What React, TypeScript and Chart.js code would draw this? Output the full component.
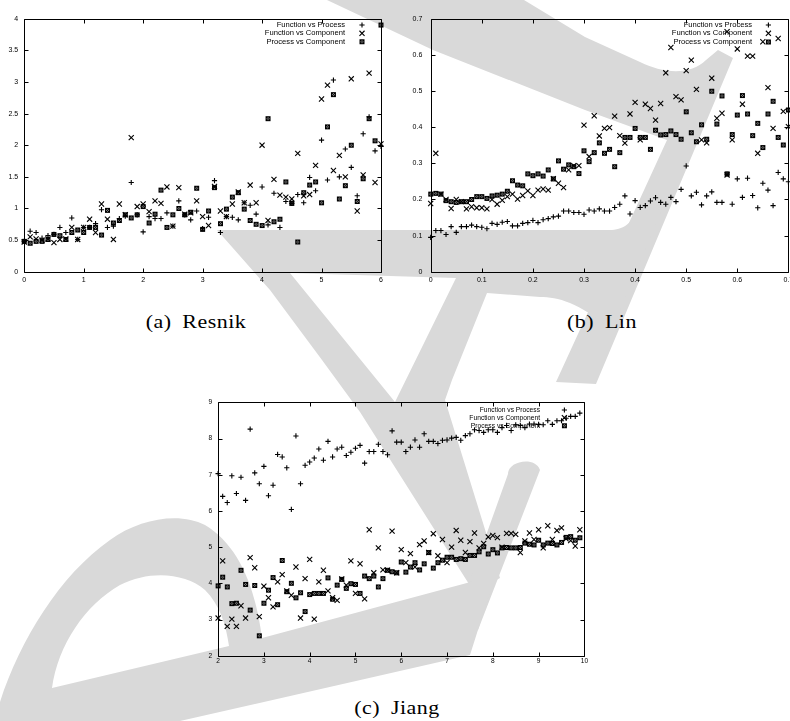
import React, { useEffect, useRef } from 'react';
import { Chart, registerables } from 'chart.js';
import { drawPoint } from 'chart.js/helpers';

Chart.register(...registerables);

// ---------------- data ----------------
const seriesLabels = ['Function vs Process', 'Function vs Component', 'Process vs Component'];

// (a) Resnik
const resnikX = [0, 0.1, 0.2, 0.3, 0.4, 0.5, 0.6, 0.7, 0.8, 0.9, 1, 1.1, 1.2, 1.3, 1.4, 1.5, 1.6, 1.7, 1.8, 1.9,
  2, 2.1, 2.2, 2.3, 2.4, 2.5, 2.6, 2.7, 2.8, 2.9, 3, 3.1, 3.2, 3.3, 3.4, 3.5, 3.6, 3.7, 3.8, 3.9,
  4, 4.1, 4.2, 4.3, 4.4, 4.5, 4.6, 4.7, 4.8, 4.9, 5, 5.1, 5.2, 5.3, 5.4, 5.5, 5.6, 5.7, 5.8, 5.9, 6];
const resnikFuncProc = [0.48, 0.64, 0.62, 0.53, 0.57, 0.59, 0.70, 0.62, 0.85, 0.51,
  0.70, 0.70, 0.76, 0.98, 0.70, 0.72, 0.84, 0.88, 1.41, 0.90,
  0.63, 0.87, 0.84, 0.84, 0.93, 0.72, 1.12, 0.90, 0.82, 0.96,
  0.68, 0.86, 1.44, 0.62, 0.87, 0.86, 0.82, 1.09, 1.05, 0.91,
  1.34, 0.74, 1.24, 0.70, 1.11, 1.08, 1.22, 1.09, 1.49, 1.28,
  2.08, 1.45, 3.03, 1.50, 1.94, 1.65, 1.20, 2.18, 2.45, 1.91, 1.98];
const resnikFuncComp = [0.47, 0.55, 0.52, 0.50, 0.52, 0.46, 0.51, 0.52, 0.70, 0.51,
  0.70, 0.83, 0.62, 1.07, 0.83, 0.51, 1.07, 0.90, 2.12, 1.03,
  1.07, 0.95, 1.12, 1.08, 1.34, 0.72, 1.33, 0.91, 0.93, 1.12,
  0.87, 0.73, 1.35, 0.96, 0.87, 1.07, 1.26, 1.09, 1.37, 1.09,
  2.00, 0.81, 1.46, 1.21, 1.18, 1.15, 1.87, 1.20, 1.22, 1.68,
  2.73, 2.95, 1.60, 1.84, 1.50, 3.05, 0.96, 1.53, 3.14, 1.41, 2.02];
const resnikProcComp = [0.48, 0.45, 0.48, 0.48, 0.51, 0.59, 0.57, 0.51, 0.62, 0.66,
  0.62, 0.70, 0.70, 0.58, 0.97, 0.77, 0.81, 0.90, 0.85, 0.90,
  1.03, 0.77, 0.91, 1.29, 0.70, 0.90, 1.00, 0.90, 0.94, 1.32,
  0.67, 0.96, 1.33, 0.76, 0.99, 1.18, 1.25, 0.99, 0.81, 0.75,
  0.73, 2.42, 0.79, 0.83, 1.42, 1.08, 0.47, 1.25, 1.37, 1.42,
  1.09, 2.29, 2.80, 1.15, 1.36, 2.00, 1.11, 1.47, 2.42, 2.07, 3.90];
const resnikXTicks = [0, 1, 2, 3, 4, 5, 6];
const resnikYTicks = [0, 0.5, 1, 1.5, 2, 2.5, 3, 3.5, 4];

// (b) Lin
const linX = [0, 0.01, 0.02, 0.03, 0.04, 0.05, 0.06, 0.07, 0.08, 0.09,
  0.1, 0.11, 0.12, 0.13, 0.14, 0.15, 0.16, 0.17, 0.18, 0.19,
  0.2, 0.21, 0.22, 0.23, 0.24, 0.25, 0.26, 0.27, 0.28, 0.29,
  0.3, 0.31, 0.32, 0.33, 0.34, 0.35, 0.36, 0.37, 0.38, 0.39,
  0.4, 0.41, 0.42, 0.43, 0.44, 0.45, 0.46, 0.47, 0.48, 0.49,
  0.5, 0.51, 0.52, 0.53, 0.54, 0.55, 0.56, 0.57, 0.58, 0.59,
  0.6, 0.61, 0.62, 0.63, 0.64, 0.65, 0.66, 0.67, 0.68, 0.69, 0.7];
const linFuncProc = [0.095, 0.114, 0.114, 0.103, 0.125, 0.109, 0.125, 0.125, 0.129, 0.125,
  0.123, 0.119, 0.134, 0.131, 0.137, 0.139, 0.127, 0.127, 0.134, 0.136,
  0.142, 0.136, 0.144, 0.147, 0.152, 0.154, 0.168, 0.168, 0.164, 0.164,
  0.159, 0.171, 0.168, 0.174, 0.168, 0.168, 0.178, 0.187, 0.210, 0.160,
  0.197, 0.178, 0.183, 0.196, 0.205, 0.192, 0.187, 0.206, 0.194, 0.228,
  0.293, 0.210, 0.220, 0.185, 0.210, 0.221, 0.192, 0.192, 0.270, 0.187,
  0.257, 0.206, 0.259, 0.211, 0.177, 0.245, 0.226, 0.183, 0.275, 0.257, 0.249];
const linFuncComp = [0.189, 0.328, 0.215, 0.200, 0.175, 0.200, 0.194, 0.174, 0.180, 0.177,
  0.177, 0.174, 0.200, 0.187, 0.198, 0.208, 0.215, 0.201, 0.211, 0.224,
  0.211, 0.226, 0.229, 0.226, 0.258, 0.245, 0.233, 0.282, 0.294, 0.294,
  0.406, 0.319, 0.432, 0.376, 0.397, 0.399, 0.431, 0.377, 0.356, 0.437,
  0.469, 0.365, 0.464, 0.452, 0.420, 0.466, 0.551, 0.621, 0.485, 0.476,
  0.557, 0.586, 0.505, 0.365, 0.357, 0.536, 0.425, 0.439, 0.268, 0.365,
  0.617, 0.464, 0.597, 0.597, 0.328, 0.637, 0.510, 0.397, 0.646, 0.444, 0.402];
const linProcComp = [0.215, 0.217, 0.215, 0.197, 0.194, 0.192, 0.194, 0.194, 0.200, 0.208,
  0.208, 0.203, 0.210, 0.212, 0.215, 0.223, 0.252, 0.240, 0.238, 0.271,
  0.266, 0.271, 0.265, 0.282, 0.257, 0.307, 0.284, 0.296, 0.291, 0.272,
  0.335, 0.305, 0.330, 0.357, 0.328, 0.339, 0.291, 0.330, 0.372, 0.372,
  0.397, 0.372, 0.372, 0.339, 0.392, 0.379, 0.380, 0.390, 0.380, 0.367,
  0.443, 0.385, 0.360, 0.407, 0.367, 0.500, 0.409, 0.487, 0.271, 0.380,
  0.434, 0.488, 0.437, 0.377, 0.411, 0.344, 0.437, 0.472, 0.372, 0.351, 0.448];
const linFuncCompExtra = [{ x: 0.58, y: 0.665 }];
const linXTicks = [0, 0.1, 0.2, 0.3, 0.4, 0.5, 0.6, 0.7];
const linYTicks = [0, 0.1, 0.2, 0.3, 0.4, 0.5, 0.6, 0.7];

// (c) Jiang
const jiangX = [2, 2.1, 2.2, 2.3, 2.4, 2.5, 2.6, 2.7, 2.8, 2.9,
  3, 3.1, 3.2, 3.3, 3.4, 3.5, 3.6, 3.7, 3.8, 3.9,
  4, 4.1, 4.2, 4.3, 4.4, 4.5, 4.6, 4.7, 4.8, 4.9,
  5, 5.1, 5.2, 5.3, 5.4, 5.5, 5.6, 5.7, 5.8, 5.9,
  6, 6.1, 6.2, 6.3, 6.4, 6.5, 6.6, 6.7, 6.8, 6.9,
  7, 7.1, 7.2, 7.3, 7.4, 7.5, 7.6, 7.7, 7.8, 7.9,
  8, 8.1, 8.2, 8.3, 8.4, 8.5, 8.6, 8.7, 8.8, 8.9,
  9, 9.1, 9.2, 9.3, 9.4, 9.5, 9.6, 9.7, 9.8, 9.9];
const jiangFuncProc = [7.03, 6.40, 6.23, 6.97, 6.48, 6.93, 6.29, 8.26, 7.05, 6.75,
  7.23, 6.42, 6.71, 7.56, 7.49, 7.19, 6.04, 8.07, 6.75, 7.26,
  7.35, 7.46, 7.71, 7.40, 7.92, 7.49, 7.71, 7.76, 7.53, 7.62,
  7.73, 7.81, 7.32, 7.64, 7.64, 7.84, 7.64, 7.55, 8.21, 7.90,
  7.90, 7.64, 7.76, 7.96, 7.76, 8.13, 7.92, 7.92, 7.86, 7.95,
  7.96, 8.01, 8.03, 7.95, 8.08, 8.13, 8.24, 8.22, 8.17, 8.24,
  8.24, 8.17, 8.30, 8.36, 8.22, 8.38, 8.36, 8.30, 8.40, 8.40,
  8.39, 8.38, 8.49, 8.39, 8.49, 8.49, 8.56, 8.61, 8.61, 8.70];
const jiangFuncComp = [3.04, 4.62, 2.81, 3.01, 2.81, 3.38, 3.04, 4.71, 4.43, 3.08,
  3.92, 3.60, 3.35, 4.04, 4.24, 3.79, 3.67, 4.45, 3.04, 4.13,
  4.66, 3.01, 4.04, 4.36, 3.79, 3.60, 3.53, 4.12, 3.95, 4.62,
  3.72, 4.54, 3.57, 5.48, 4.29, 4.98, 4.37, 4.36, 5.44, 4.29,
  4.93, 4.57, 4.82, 4.45, 5.07, 5.17, 4.85, 5.37, 4.76, 5.21,
  4.57, 5.00, 5.46, 5.19, 4.85, 5.15, 5.39, 4.98, 5.10, 5.28,
  5.32, 5.26, 5.00, 5.38, 5.38, 5.35, 4.85, 5.17, 5.39, 5.21,
  5.48, 4.98, 5.59, 5.21, 5.46, 5.53, 5.23, 5.18, 5.03, 5.48];
const jiangProcComp = [3.93, 4.17, 3.90, 3.44, 3.45, 4.36, 3.97, 3.26, 3.94, 2.55,
  3.45, 3.81, 4.16, 3.41, 4.63, 3.77, 4.00, 3.60, 3.74, 3.22,
  3.69, 3.72, 3.72, 3.72, 4.15, 3.56, 3.95, 4.11, 3.86, 3.99,
  3.97, 3.72, 4.20, 4.13, 4.20, 3.90, 4.13, 4.36, 4.32, 4.29,
  4.59, 4.31, 4.45, 4.57, 4.37, 4.54, 4.85, 4.42, 4.57, 4.64,
  4.72, 4.72, 4.66, 4.68, 4.66, 4.77, 4.77, 4.87, 5.01, 4.81,
  4.93, 4.84, 4.98, 4.99, 4.98, 4.98, 4.99, 5.11, 5.08, 5.06,
  5.19, 5.06, 5.11, 5.10, 5.06, 5.13, 5.27, 5.29, 5.19, 5.26];
const jiangXTicks = [2, 3, 4, 5, 6, 7, 8, 9, 10];
const jiangYTicks = [2, 3, 4, 5, 6, 7, 8, 9];

// ---------------- panel configuration ----------------
type Pt = { x: number; y: number };
type PanelCfg = {
  left: number; top: number; width: number; height: number;
  plot: { left: number; right: number; top: number; bottom: number };
  xMin: number; xMax: number; yMin: number; yMax: number;
  xTicks: number[]; yTicks: number[];
  xs: number[]; ys: number[][]; extras: Pt[][];
  tickFont: number; padX: number; padY: number;
  legendFont: number; legendTextOff: number; legendMarkOff: number; legendRows: number[];
};

const panels: PanelCfg[] = [
  {
    left: 0, top: 0, width: 395, height: 300,
    plot: { left: 24.2, right: 381, top: 18.7, bottom: 271.7 },
    xMin: 0, xMax: 6, yMin: 0, yMax: 4, xTicks: resnikXTicks, yTicks: resnikYTicks,
    xs: resnikX, ys: [resnikFuncProc, resnikFuncComp, resnikProcComp], extras: [[], [], []],
    tickFont: 7, padX: 4.3, padY: 6,
    legendFont: 7.6, legendTextOff: 36, legendMarkOff: 19, legendRows: [6.3, 14.6, 23],
  },
  {
    left: 395, top: 0, width: 410, height: 300,
    plot: { left: 35.7, right: 393.4, top: 19, bottom: 271.7 },
    xMin: 0, xMax: 0.7, yMin: 0, yMax: 0.7, xTicks: linXTicks, yTicks: linYTicks,
    xs: linX, ys: [linFuncProc, linFuncComp, linProcComp], extras: [[], linFuncCompExtra, []],
    tickFont: 7, padX: 4.3, padY: 8.4,
    legendFont: 7.6, legendTextOff: 36.4, legendMarkOff: 20, legendRows: [6, 14.3, 23],
  },
  {
    left: 195, top: 390, width: 400, height: 290,
    plot: { left: 23.1, right: 389.4, top: 12.3, bottom: 265.7 },
    xMin: 2, xMax: 10, yMin: 2, yMax: 9, xTicks: jiangXTicks, yTicks: jiangYTicks,
    xs: jiangX, ys: [jiangFuncProc, jiangFuncComp, jiangProcComp], extras: [[], [], []],
    tickFont: 6.6, padX: 2, padY: 6,
    legendFont: 6.7, legendTextOff: 44.4, legendMarkOff: 20, legendRows: [7.7, 15.4, 23.4],
  },
];

const SANS = "'Liberation Sans', Arial, Helvetica, sans-serif";

// boxed-x marker (pixel pattern), like the gnuplot point type used for the third series
function makeBoxX(): HTMLCanvasElement {
  const c = document.createElement('canvas');
  c.width = 7;
  c.height = 7;
  const g = c.getContext('2d')!;
  g.fillStyle = '#000';
  g.fillRect(1, 1, 5, 5);
  g.fillStyle = '#8a8a8a';
  g.fillRect(3, 2, 1, 1);
  g.fillRect(2, 3, 1, 1);
  g.fillRect(4, 3, 1, 1);
  g.fillRect(3, 4, 1, 1);
  return c;
}

function Panel({ cfg }: { cfg: PanelCfg }) {
  const ref = useRef<HTMLCanvasElement>(null);
  useEffect(() => {
    const canvas = ref.current!;
    const boxX = makeBoxX();
    const styles: any[] = ['cross', 'crossRot', boxX];
    const radii = [2.6, 3.6, 3.5];

    const frame = {
      id: 'frame',
      afterDraw(chart: any) {
        const { ctx, chartArea: a, scales } = chart;
        ctx.save();
        ctx.strokeStyle = '#000';
        ctx.lineWidth = 1;
        const L = Math.round(a.left) + 0.5, R = Math.round(a.right) + 0.5;
        const T = Math.round(a.top) + 0.5, B = Math.round(a.bottom) + 0.5;
        ctx.beginPath();
        ctx.rect(L, T, R - L, B - T);
        const tl = 4;
        cfg.xTicks.forEach((v) => {
          const px = Math.round(scales.x.getPixelForValue(v)) + 0.5;
          ctx.moveTo(px, B); ctx.lineTo(px, B - tl);
          ctx.moveTo(px, T); ctx.lineTo(px, T + tl);
        });
        cfg.yTicks.forEach((v) => {
          const py = Math.round(scales.y.getPixelForValue(v)) + 0.5;
          ctx.moveTo(L, py); ctx.lineTo(L + tl, py);
          ctx.moveTo(R, py); ctx.lineTo(R - tl, py);
        });
        ctx.stroke();

        // key (gnuplot style: text right-aligned, sample on the right)
        ctx.font = `${cfg.legendFont}px ${SANS}`;
        ctx.textAlign = 'right';
        ctx.textBaseline = 'middle';
        seriesLabels.forEach((lab, k) => {
          const y = a.top + cfg.legendRows[k];
          ctx.fillStyle = '#000';
          ctx.fillText(lab, a.right - cfg.legendTextOff, y);
          ctx.strokeStyle = '#000';
          ctx.lineWidth = 1.1;
          drawPoint(ctx, { pointStyle: styles[k], radius: radii[k], borderWidth: 1.1, rotation: 0 } as any,
            a.right - cfg.legendMarkOff, y);
        });
        ctx.restore();
      },
    };

    const chart = new Chart(canvas, {
      type: 'scatter',
      data: {
        datasets: cfg.ys.map((ys, k) => ({
          label: seriesLabels[k],
          data: [...cfg.xs.map((x, i) => ({ x, y: ys[i] })), ...cfg.extras[k]],
          pointStyle: styles[k],
          pointRadius: radii[k],
          pointBorderWidth: 1.1,
          pointBorderColor: '#000',
          pointBackgroundColor: '#000',
          showLine: false,
          clip: false as any,
        })),
      },
      options: {
        animation: false,
        responsive: false,
        maintainAspectRatio: false,
        devicePixelRatio: 1,
        events: [],
        layout: {
          padding: { left: 0, top: cfg.plot.top, right: cfg.width - cfg.plot.right, bottom: 0 },
        },
        plugins: { legend: { display: false }, tooltip: { enabled: false } },
        scales: {
          x: {
            type: 'linear',
            min: cfg.xMin,
            max: cfg.xMax,
            afterBuildTicks: (s: any) => { s.ticks = cfg.xTicks.map((v) => ({ value: v })); },
            afterFit: (s: any) => {
              s.height = cfg.height - cfg.plot.bottom;
              s.paddingLeft = 0; s.paddingRight = 0; s.paddingTop = 0; s.paddingBottom = 0;
            },
            grid: { display: false, drawTicks: false },
            border: { display: false },
            ticks: {
              color: '#000',
              font: { family: SANS, size: cfg.tickFont },
              padding: cfg.padX,
              maxRotation: 0,
              autoSkip: false,
              callback: (v: any) => String(v),
            },
          },
          y: {
            type: 'linear',
            min: cfg.yMin,
            max: cfg.yMax,
            afterBuildTicks: (s: any) => { s.ticks = cfg.yTicks.map((v) => ({ value: v })); },
            afterFit: (s: any) => {
              s.width = cfg.plot.left;
              s.paddingLeft = 0; s.paddingRight = 0; s.paddingTop = 0; s.paddingBottom = 0;
            },
            grid: { display: false, drawTicks: false },
            border: { display: false },
            ticks: {
              color: '#000',
              font: { family: SANS, size: cfg.tickFont },
              padding: cfg.padY,
              autoSkip: false,
              callback: (v: any) => String(v),
            },
          },
        },
      } as any,
      plugins: [frame],
    });
    return () => chart.destroy();
  }, [cfg]);

  return (
    <canvas
      ref={ref}
      width={cfg.width}
      height={cfg.height}
      style={{ position: 'absolute', left: cfg.left, top: cfg.top, width: cfg.width, height: cfg.height }}
    />
  );
}

const captionStyle: React.CSSProperties = {
  position: 'absolute',
  width: 200,
  textAlign: 'center',
  fontFamily: "'Liberation Serif', 'Times New Roman', serif",
  fontSize: 18,
  lineHeight: '18px',
  wordSpacing: 4,
  letterSpacing: 0.4,
  color: '#000',
  whiteSpace: 'pre',
  transform: 'scaleX(1.22)',
  transformOrigin: '50% 50%',
};

export default function App() {
  return (
    <div style={{ position: 'absolute', left: 0, top: 0, width: 790, height: 721, overflow: 'hidden', background: '#fff' }}>
      <svg width={790} height={721} style={{ position: 'absolute', left: 0, top: 0 }}>
        <g fill="#d9d9d9" fillRule="evenodd">
          <path d="M327,0 L524,0 L585,37 L640,62 C662,73 690,76 706,60 L718,50 L733,58 L596,384 L556,382 L667,140 L585,110 L433,50 Z" />
          <path d="M217,230 L612,230 C625,229 633,222 640,205 L662,210 L612,330 C578,302 558,297 540,297 L487,293 L452,380 L445,400 L500,578 L474,592 L360,412 L322,360 L270,290 Z M290,273 L456,278 L395,402 Z" />
          <path d="M508,474 C508,461 535,456 540,470 L478,630 L445,650 Z" />
          <path d="M0,721 L0,702 C20,640 60,575 110,540 C140,518 180,512 205,525 C238,545 255,585 262,638 L478,580 L490,592 L470,655 L180,721 Z M52,688 C58,645 85,605 120,585 C150,570 185,573 205,590 C220,605 226,625 229,646 Z" />
        </g>
      </svg>
      {panels.map((p, i) => <Panel key={i} cfg={p} />)}
      <div style={{ ...captionStyle, left: 96, top: 313 }}>(a) Resnik</div>
      <div style={{ ...captionStyle, left: 502, top: 313 }}>(b) Lin</div>
      <div style={{ ...captionStyle, left: 297, top: 699 }}>(c) Jiang</div>
    </div>
  );
}
